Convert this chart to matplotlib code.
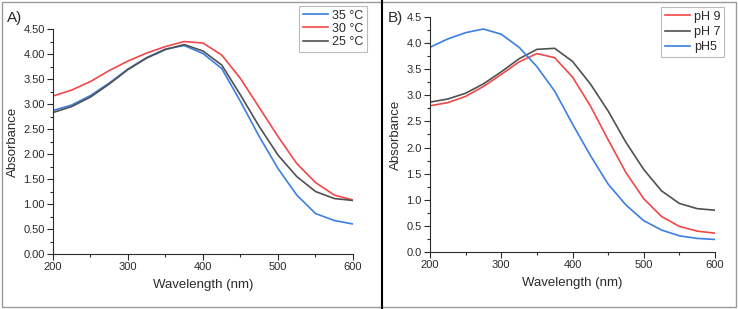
import numpy as np
import matplotlib.pyplot as plt
from matplotlib.ticker import MultipleLocator
from matplotlib.lines import Line2D
from matplotlib.patches import Rectangle

plt.rcParams["font.family"] = ["Liberation Sans", "DejaVu Sans"]

# wavelength grid (nm)
wavelength = [200, 225, 250, 275, 300, 325, 350, 375, 400, 425,
              450, 475, 500, 525, 550, 575, 600]

# panel A: temperature
temp_labels = ["35 °C", "30 °C", "25 °C"]
abs_35 = [2.87, 2.98, 3.17, 3.42, 3.70, 3.93, 4.10, 4.17, 4.01, 3.71,
          3.05, 2.35, 1.71, 1.18, 0.81, 0.67, 0.60]
abs_30 = [3.16, 3.28, 3.45, 3.67, 3.86, 4.02, 4.15, 4.25, 4.22, 3.98,
          3.51, 2.93, 2.35, 1.81, 1.43, 1.18, 1.08]
abs_25 = [2.83, 2.95, 3.14, 3.40, 3.69, 3.92, 4.09, 4.19, 4.06, 3.78,
          3.18, 2.55, 1.98, 1.55, 1.25, 1.11, 1.07]

# panel B: pH
ph_labels = ["pH 9", "pH 7", "pH5"]
abs_ph9 = [2.80, 2.86, 2.98, 3.17, 3.40, 3.64, 3.80, 3.72, 3.35, 2.80,
           2.15, 1.52, 1.02, 0.68, 0.49, 0.40, 0.36]
abs_ph7 = [2.87, 2.93, 3.04, 3.22, 3.45, 3.70, 3.88, 3.90, 3.65, 3.22,
           2.70, 2.10, 1.58, 1.17, 0.93, 0.83, 0.80]
abs_ph5 = [3.92, 4.08, 4.20, 4.27, 4.17, 3.92, 3.55, 3.08, 2.45, 1.85,
           1.30, 0.90, 0.60, 0.42, 0.31, 0.26, 0.24]

BLUE = "#3b7fe0"
RED = "#f04848"
GRAY = "#505050"
TXT = "#2b2b2b"

fig = plt.figure(figsize=(7.38, 3.09), dpi=100)


def style_axes(ax, fmt):
    for s in ("top", "right"):
        ax.spines[s].set_visible(False)
    for s in ("left", "bottom"):
        ax.spines[s].set_color(TXT)
        ax.spines[s].set_linewidth(0.8)
    ax.set_xlim(200, 600)
    ax.set_ylim(0, 4.5)
    ax.xaxis.set_major_locator(MultipleLocator(100))
    ax.xaxis.set_minor_locator(MultipleLocator(50))
    ax.yaxis.set_major_locator(MultipleLocator(0.5))
    ax.yaxis.set_minor_locator(MultipleLocator(0.25))
    ax.yaxis.set_major_formatter(plt.FormatStrFormatter(fmt))
    ax.tick_params(which="major", direction="out", length=4, width=0.8,
                   colors=TXT, labelsize=8, pad=2)
    ax.tick_params(which="minor", direction="out", length=2.5, width=0.8, colors=TXT)
    ax.set_xlabel("Wavelength (nm)", fontsize=9.5, color=TXT, labelpad=5)
    ax.set_ylabel("Absorbance", fontsize=9.5, color=TXT, labelpad=3)


def add_legend(ax, anchor, spacing):
    leg = ax.legend(loc="upper right", bbox_to_anchor=anchor,
                    bbox_transform=fig.transFigure, fontsize=9, frameon=True,
                    fancybox=False, edgecolor="#aaaaaa", borderpad=0.3,
                    handlelength=2.0, handletextpad=0.3, labelspacing=spacing,
                    borderaxespad=0)
    leg.get_frame().set_linewidth(0.8)
    for t in leg.get_texts():
        t.set_color(TXT)
    return leg


# panel A
ax1 = fig.add_axes([0.0718, 0.178, 0.4065, 0.728])
ax1.plot(wavelength, abs_35, color=BLUE, lw=1.2, label=temp_labels[0])
ax1.plot(wavelength, abs_30, color=RED, lw=1.2, label=temp_labels[1])
ax1.plot(wavelength, abs_25, color=GRAY, lw=1.2, label=temp_labels[2])
style_axes(ax1, "%.2f")
add_legend(ax1, (0.497, 0.981), 0.1)

# panel B
ax2 = fig.add_axes([0.5827, 0.1845, 0.3861, 0.7605])
ax2.plot(wavelength, abs_ph9, color=RED, lw=1.2, label=ph_labels[0])
ax2.plot(wavelength, abs_ph7, color=GRAY, lw=1.2, label=ph_labels[1])
ax2.plot(wavelength, abs_ph5, color=BLUE, lw=1.2, label=ph_labels[2])
style_axes(ax2, "%.1f")
add_legend(ax2, (0.981, 0.977), 0.25)

# panel letters
fig.text(0.009, 0.965, "A)", fontsize=11, color=TXT, va="top")
fig.text(0.525, 0.965, "B)", fontsize=11, color=TXT, va="top")

# outer frame and divider
fig.patches.append(Rectangle((0.003, 0.006), 0.994, 0.988, transform=fig.transFigure,
                             fill=False, edgecolor="#9a9a9a", lw=1.0))
fig.lines.append(Line2D([0.517, 0.517], [0.0, 1.0], transform=fig.transFigure,
                        color="black", lw=1.5))

fig.savefig("out.png", dpi=100)
